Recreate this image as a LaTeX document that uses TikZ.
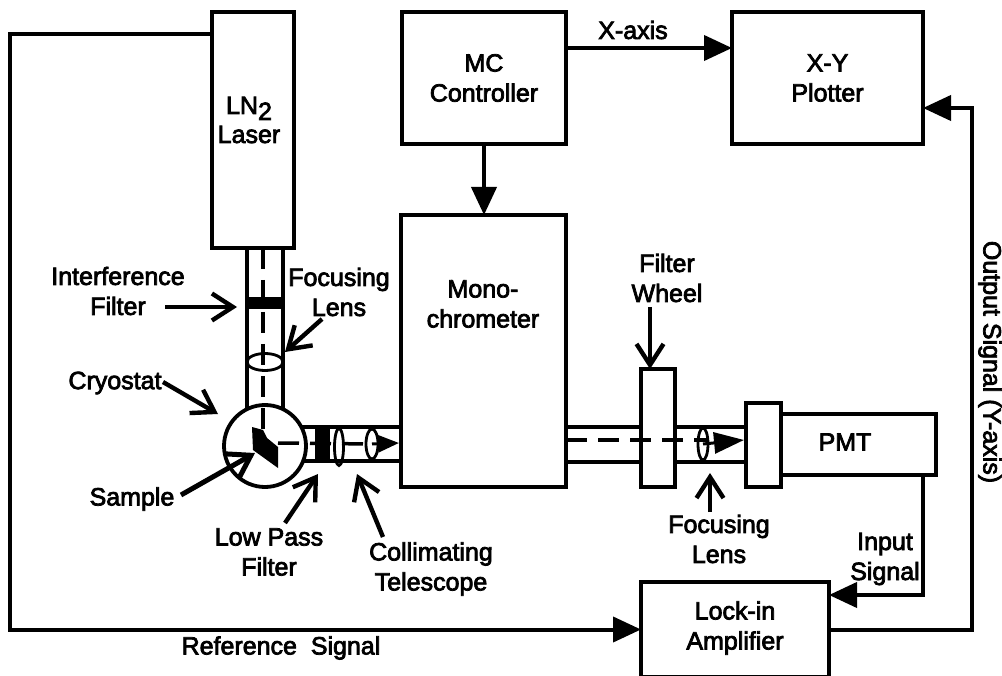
\documentclass[tikz,border=0pt]{standalone}
\usepackage{fontspec}
\newfontfamily\labelfont[FakeBold=3]{Liberation Sans}
\usetikzlibrary{shapes, arrows.meta, positioning, calc}
\tikzset{
  boxnode/.style={draw, line width=3.8pt, fill=white, outer sep=0pt, inner sep=0pt},
  labelnode/.style={font=\labelfont\fontsize{25}{30}\selectfont, align=center, inner sep=0pt},
  lensnode/.style={ellipse, draw, line width=2.8pt, outer sep=0pt, inner sep=0pt},
  filterbar/.style={fill=black, inner sep=0pt, outer sep=0pt},
  tubeline/.style={line width=3.4pt},
  beamline/.style={line width=3.5pt, dash pattern=on 21pt off 11pt},
  wireline/.style={line width=4pt},
  solidhead/.style={wireline, -{Triangle[length=28pt, width=25pt]}},
  openhead/.style={line width=4.4pt, -{Straight Barb[length=21pt, width=27pt]}}
}

\begin{document}
\begin{tikzpicture}[x=1pt, y=-1pt]
  \useasboundingbox (0,0) rectangle (1002,676);
  % light path tubes
  \draw[tubeline] (247,249) -- (247,420) (283,249) -- (283,420);
  \draw[tubeline] (290,427) -- (400,427) (290,461) -- (400,461);
  \draw[tubeline] (566,427) -- (745,427) (566,462) -- (745,462);

  % instruments
  \node[boxnode, minimum width=82pt, minimum height=236pt] (laser) at (253,130) {};
  \node[boxnode, labelnode, minimum width=164pt, minimum height=132pt] (controller) at (484,78) {MC\\Controller};
  \node[boxnode, labelnode, minimum width=191pt, minimum height=132pt] (plotter) at (827.5,78) {X-Y\\Plotter};
  \node[boxnode, minimum width=165pt, minimum height=272pt] (mono) at (483.5,351) {};
  \node[boxnode, minimum width=34pt, minimum height=118pt] (wheel) at (658,428) {};
  \node[boxnode, minimum width=155pt, minimum height=61pt] (pmt) at (858.5,444.5) {};
  \node[boxnode, minimum width=35pt, minimum height=84pt] (head) at (763.5,445) {};
  \node[boxnode, minimum width=188pt, minimum height=95pt] (lockin) at (735,629.5) {};
  \node[circle, boxnode, minimum size=82pt] (cryostat) at (265,446) {};

  % optics
  \node[filterbar, minimum width=36pt, minimum height=12pt] (intfilter) at (265,303) {};
  \node[filterbar, minimum width=15pt, minimum height=35pt] (lowpass) at (322,444) {};
  \node[lensnode, minimum width=36pt, minimum height=17pt] (lensa) at (265,362) {};
  \node[lensnode, minimum width=9pt, minimum height=37pt] (lensb) at (339,447) {};
  \node[lensnode, minimum width=12pt, minimum height=30pt] (lensc) at (372,444) {};
  \node[lensnode, minimum width=10pt, minimum height=32pt] (lensd) at (703,444) {};
  \fill (252,427) -- (263,430) -- (267,438) -- (278,447) -- (278,468) -- (253,450) -- cycle;

  % beams
  \draw[beamline] (laser.south -| 263,0) -- (263,437);
  \draw[beamline] (278,443) -- (lensc.center);
  \draw[beamline] (mono.east |- 0,440) -- (lensd.east |- 0,440);
  \draw[line width=3pt, -{Triangle[length=21pt, width=17pt]}] (lensc.center) -- (399,443);
  \draw[line width=3pt, -{Triangle[length=30pt, width=21pt]}] (lensd.center) -- (744,440);

  % signals
  \coordinate (reftop) at (10,34);
  \coordinate (refbottom) at (10,629.5);
  \coordinate (outcorner) at (972,108);
  \draw[solidhead] ([yshift=96pt]laser.west) -- (reftop) -- (refbottom) -- (lockin.west);
  \draw[solidhead] ([yshift=30pt]controller.east) -- ([yshift=30pt]plotter.west);
  \draw[solidhead] (controller.south) -- (mono.north -| controller.south);
  \draw[solidhead] (lockin.east) -| (outcorner) -- ([yshift=-30pt]plotter.east);
  \draw[solidhead] ([xshift=64.5pt]pmt.south) |- ([yshift=34.5pt]lockin.east);

  % labels
  \node[labelnode] (lasertext) at (249,120) {LN\raisebox{-6pt}{2}\\[-1pt]Laser};
  \node[labelnode] (monotext) at (483,304) {Mono-\\chrometer};
  \node[labelnode] (pmttext) at (845,442) {PMT};
  \node[labelnode] (lockintext) at (735,628) {Lock-in\\Amplifier};
  \node[labelnode] (xaxistext) at (633,30) {X-axis};
  \node[labelnode] (wheeltext) at (667,278) {Filter\\Wheel};
  \node[labelnode] (intfiltertext) at (118,291) {Interference\\Filter};
  \node[labelnode] (lensatext) at (339,292) {Focusing\\Lens};
  \node[labelnode] (cryotext) at (115,383) {Cryostat};
  \node[labelnode] (sampletext) at (132,499) {Sample};
  \node[labelnode] (lowpasstext) at (269,552) {Low Pass\\Filter};
  \node[labelnode] (telescopetext) at (431,569) {Collimating\\Telescope};
  \node[labelnode] (lensdtext) at (719,539) {Focusing\\Lens};
  \node[labelnode] (inputtext) at (885,559) {Input\\Signal};
  \node[labelnode] (reftext) at (281,648) {Reference\ \ Signal};
  \node[labelnode, rotate=-90] (outputtext) at (990,362) {Output Signal (Y-axis)};

  % label arrows
  \coordinate (intfiltertail) at (165,307);
  \coordinate (intfiltertip) at (237,307);
  \coordinate (lensatail) at (322,319);
  \coordinate (lensatip) at (285,352);
  \coordinate (cryotail) at (163,382);
  \coordinate (cryotip) at (218,414);
  \coordinate (sampletail) at (181,495);
  \coordinate (sampletip) at (255,453);
  \coordinate (lowpasstail) at (285,523);
  \coordinate (lowpasstip) at (318,474);
  \coordinate (telescopetail) at (383,537);
  \coordinate (telescopetip) at (357,474);
  \coordinate (wheeltail) at (650,307);
  \coordinate (lensdtail) at (710,512);
  \coordinate (lensdtip) at (710,473);
  \draw[openhead] (intfiltertail) -- (intfiltertip);
  \draw[openhead] (lensatail) -- (lensatip);
  \draw[openhead] (cryotail) -- (cryotip);
  \draw[openhead, line width=5pt] (sampletail) -- (sampletip);
  \draw[openhead] (lowpasstail) -- (lowpasstip);
  \draw[openhead] (telescopetail) -- (telescopetip);
  \draw[openhead] (wheeltail) -- (wheeltail |- wheel.north);
  \draw[openhead] (lensdtail) -- (lensdtip);
\end{tikzpicture}
\end{document}
